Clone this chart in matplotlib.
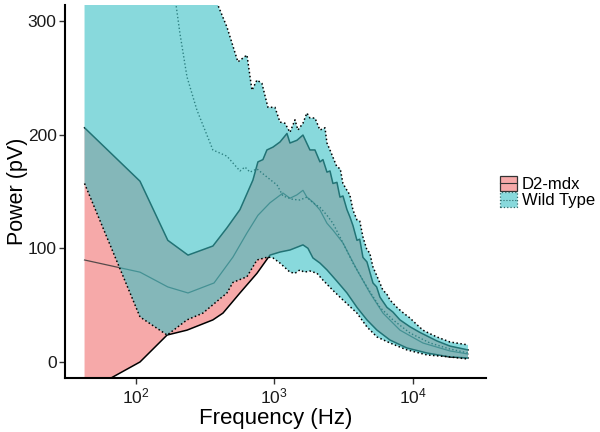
import numpy as np
import matplotlib
matplotlib.use("Agg")
import matplotlib.pyplot as plt
from matplotlib.patches import Rectangle
from matplotlib.lines import Line2D
from matplotlib.legend_handler import HandlerBase

plt.rcParams['font.family'] = ['Liberation Sans', 'DejaVu Sans']
plt.rcParams['mathtext.fontset'] = 'custom'
plt.rcParams['mathtext.rm'] = 'Liberation Sans'
plt.rcParams['mathtext.default'] = 'regular'

groups = ["D2-mdx", "Wild Type"]

# ---- D2-mdx ribbon (solid borders) ----
d2_upper_hz = [42.5, 107, 170, 238, 360, 455, 565, 667, 701, 762, 828, 885, 979, 1100, 1236,
               1299, 1459, 1613, 1811, 1969, 2140, 2250, 2405, 2530, 2656, 2840, 2985, 3140,
               3355, 3527, 3707, 3963, 4150, 4378, 4680, 5172, 5500, 5813, 6532, 7200, 8110,
               9570, 11300, 15000, 18630, 25170]
d2_upper_pv = [206, 159, 107, 94, 102, 118, 134, 154, 160, 176, 178, 186.5, 189, 193.5, 201,
               192.6, 195, 199.6, 186.5, 186.5, 176, 178, 167, 168, 157, 158, 145, 146,
               134, 127.5, 120, 107, 108, 92, 88, 69.5, 66, 57, 48, 44, 37,
               31, 26, 18.5, 14, 10.6]

d2_lower_hz = [42.5, 107, 168, 234, 360, 426, 565, 750, 931, 1100, 1299, 1613, 1752, 1904,
               2140, 2405, 2840, 3355, 3963, 4680, 5530, 6866, 9105, 12700, 18630, 25170]
d2_lower_pv = [-27, 0, 23.7, 28, 37, 43, 60.7, 78, 94, 96.7, 98.5, 103, 100, 91.5,
               87, 81, 71, 60.7, 48, 37, 28, 19.3, 12.3, 7.9, 4.4, 3.5]

d2_mean_hz = [42.5, 107, 170, 238, 367, 503, 635, 762, 931, 1156, 1299, 1459, 1613, 1722,
              1904, 2140, 2405, 2656, 3138, 3963, 4920, 6110, 8110, 11880, 18630, 25170]
d2_mean_pv = [89.7, 79, 66, 60.7, 69.5, 92.3, 113.5, 129, 140, 148.6, 144, 147, 151, 145,
              140.7, 133.7, 122, 116, 104.7, 81, 60.7, 43, 28, 16.7, 9.7, 7]

# ---- Wild Type ribbon (dotted borders) ----
wt_upper_hz = [42.5, 107, 170, 238, 360, 385, 455, 546, 635, 690, 750, 815, 900, 1012, 1100,
               1195, 1299, 1412, 1483, 1613, 1722, 1811, 1969, 2140, 2327, 2405, 2528, 2840,
               3000, 3138, 3355, 3520, 3707, 3963, 4150, 4378, 4680, 4900, 5172, 5600, 6110,
               6500, 6866, 7716, 8400, 9570, 10500, 11880, 13300, 15000, 18630, 25170]
wt_upper_pv = [1300, 1000, 700, 500, 323, 316, 294.6, 264, 270, 239, 248, 245, 224, 224, 211,
               210, 202, 213, 204, 210, 219, 214.6, 214.6, 204, 206, 192.6, 186.5, 171.5,
               170, 157, 151, 147, 133.7, 125, 124, 110, 98.5, 96, 83.6, 74, 63,
               60, 54.5, 48, 44, 38.7, 34, 28, 25, 22, 17.6, 15]

wt_lower_hz = [42.5, 107, 168, 234, 305, 455, 503, 635, 750, 900, 979, 1100, 1299, 1412,
               1534, 1650, 1811, 2036, 2250, 2656, 3138, 3963, 4680, 5530, 6866, 9105,
               12700, 18630, 25170]
wt_lower_pv = [157, 39.6, 23.7, 37, 43, 60.7, 70, 75, 89.7, 92.3, 91.5, 87, 79, 78,
               81, 79, 80, 78, 72, 63, 54.5, 43, 30.8, 22, 16.7, 10.6,
               6.2, 4.4, 2.6]

wt_mean_hz = [42.5, 107, 170, 195, 208, 234, 276, 360, 455, 565, 614, 667, 750, 885, 1047,
              1156, 1365, 1534, 1722, 1904, 2140, 2405, 2656, 2985, 3707, 4680, 5813, 7218,
              9570, 13350, 18630, 25170]
wt_mean_pv = [1000, 700, 365, 314, 289, 250.7, 221.6, 186.5, 181, 168, 171.5, 167, 169.8,
              162.7, 155.7, 146, 143, 142.5, 145, 140, 136, 129, 122, 110, 87, 66, 48, 37,
              25.5, 16.7, 11.4, 7.9]

x_ticks = [100, 1000, 10000]
y_ticks = [0, 100, 200, 300]

RED = (240/255, 113/255, 113/255)
CYAN = (57/255, 193/255, 197/255)
ALPHA = 0.6
DOT = (0, (1, 1.6))

fig = plt.figure(figsize=(6, 4.32), dpi=100)
ax = fig.add_axes([65/600, 54/432, 421/600, 373/432])


def ribbon(uh, up, lh, lp):
    xs = np.concatenate([np.asarray(uh, float), np.asarray(lh, float)[::-1]])
    ys = np.concatenate([np.asarray(up, float), np.asarray(lp, float)[::-1]])
    return xs, ys


# D2-mdx
xs, ys = ribbon(d2_upper_hz, d2_upper_pv, d2_lower_hz, d2_lower_pv)
ax.fill(xs, ys, color=RED, alpha=ALPHA, lw=0, zorder=1)
ax.plot(d2_upper_hz, d2_upper_pv, color='black', lw=1.1, zorder=2)
ax.plot(d2_lower_hz, d2_lower_pv, color='black', lw=1.1, zorder=2)
ax.plot(d2_mean_hz, d2_mean_pv, color='#3a3a3a', lw=0.9, alpha=0.85, zorder=2)

# Wild Type
ax.plot(wt_mean_hz, wt_mean_pv, color='#202020', lw=1.0, ls=DOT, zorder=2.5)
xs, ys = ribbon(wt_upper_hz, wt_upper_pv, wt_lower_hz, wt_lower_pv)
ax.fill(xs, ys, color=CYAN, alpha=ALPHA, lw=0, zorder=3)
ax.plot(wt_upper_hz, wt_upper_pv, color='black', lw=1.1, ls=DOT, zorder=4)
ax.plot(wt_lower_hz, wt_lower_pv, color='black', lw=1.1, ls=DOT, zorder=4)

ax.set_xscale('log')
ax.set_xlim(30.7, 33960)
ax.set_ylim(-14.1, 314)
ax.set_xticks(x_ticks)
ax.xaxis.set_minor_locator(matplotlib.ticker.NullLocator())
ax.set_yticks(y_ticks)

for s in ['top', 'right']:
    ax.spines[s].set_visible(False)
for s in ['left', 'bottom']:
    ax.spines[s].set_linewidth(1.5)
    ax.spines[s].set_color('black')
ax.tick_params(axis='both', length=4.5, width=1, colors='#333333', labelsize=12.5,
               labelcolor='#1a1a1a', pad=1.5)

ax.set_xlabel('Frequency (Hz)', fontsize=16, labelpad=1)
ax.set_ylabel('Power (pV)', fontsize=15.5, labelpad=0)


class Key:
    def __init__(self, face, edge, ls):
        self.face, self.edge, self.ls = face, edge, ls


class KeyHandler(HandlerBase):
    def create_artists(self, legend, orig, xdescent, ydescent, width, height,
                       fontsize, trans):
        r = Rectangle((-xdescent, -ydescent), width, height, facecolor=orig.face,
                      edgecolor=orig.edge, lw=0.9, ls=orig.ls, transform=trans)
        y = height / 2 - ydescent
        ln = Line2D([-xdescent, width - xdescent], [y, y], color=orig.edge, lw=0.8,
                    ls=orig.ls, transform=trans)
        return [r, ln]


k_d2 = Key((*RED, ALPHA), '#333333', '-')
k_wt = Key((*CYAN, ALPHA), '#2f6a6a', ':')
ax.legend([k_d2, k_wt], groups, handler_map={Key: KeyHandler()},
          loc='center left', bbox_to_anchor=(500/600, 1 - 192/432),
          bbox_transform=fig.transFigure, frameon=False, fontsize=12,
          handlelength=1.0, handleheight=1.05, handletextpad=0.3,
          labelspacing=0.0, borderpad=0, borderaxespad=0)

fig.savefig('out.png', dpi=100)
